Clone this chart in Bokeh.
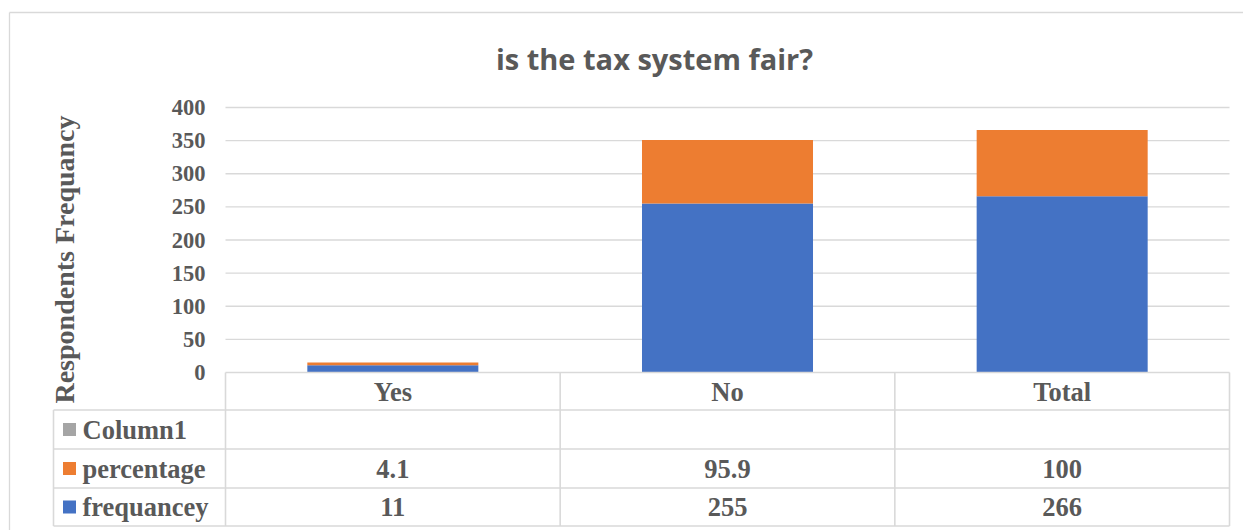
import math
from bokeh.plotting import figure
from bokeh.models import Range1d, ColumnDataSource
from bokeh.core.properties import value
from bokeh.embed import file_html
from bokeh.resources import INLINE

# ---------------- data ----------------
title_text = "is the tax system fair?"
y_label = "Respondents Frequancy"
categories = ["Yes", "No", "Total"]
frequancey = [11, 255, 266]
percentage = [4.1, 95.9, 100]
column1 = [None, None, None]
series_names = ["Column1", "percentage", "frequancey"]
series_colors = ["#A5A5A5", "#ED7D31", "#4472C4"]
y_ticks = [0, 50, 100, 150, 200, 250, 300, 350, 400]

# ---------------- layout (pixels) ----------------
W, H = 1243, 530
PX_L, PX_R = 225.0, 1229.0
PX_Y0, PX_YTOP = 372.0, 107.0
Y_TOP_VAL = y_ticks[-1]
n = len(categories)
sx = (PX_R - PX_L) / n
sy = (PX_Y0 - PX_YTOP) / Y_TOP_VAL


def X(px):
    return (px - PX_L) / sx


def Y(py):
    return (PX_Y0 - py) / sy


TEXT = "#595959"
LINE = "#D9D9D9"
SERIF = value("Liberation Serif")

p = figure(width=W, height=H,
           x_range=Range1d(X(0), X(W)), y_range=Range1d(Y(H), Y(0)),
           output_backend="svg", toolbar_location=None,
           x_axis_type=None, y_axis_type=None,
           min_border=0, min_border_left=0, min_border_right=0,
           min_border_top=0, min_border_bottom=0)
p.outline_line_color = None
p.background_fill_color = "white"
p.border_fill_color = "white"

# outer chart border (left and top visible)
p.segment(x0=[X(9), X(9)], y0=[Y(12), Y(12)], x1=[X(9), X(W + 5)], y1=[Y(H + 5), Y(12)],
          line_color=LINE, line_width=1.3)

# gridlines
gt = y_ticks[1:]
p.segment(x0=[0] * len(gt), x1=[n] * len(gt), y0=gt, y1=gt, line_color=LINE, line_width=1.3)

# stacked bars
src = ColumnDataSource(dict(x=[i + 0.5 for i in range(n)], frequancey=frequancey, percentage=percentage))
p.vbar_stack(["frequancey", "percentage"], x="x", width=0.511, source=src,
             fill_color=[series_colors[2], series_colors[1]], line_color=None)

# y tick labels
p.text(x=[X(205)] * len(y_ticks), y=y_ticks, text=[str(t) for t in y_ticks],
       text_align="right", text_baseline="middle", text_font=SERIF, text_font_style="bold",
       text_font_size="22.5px", text_color=TEXT)

# y axis label
p.text(x=[X(64)], y=[Y(259)], text=[y_label], angle=math.pi / 2,
       text_align="center", text_baseline="middle", text_font=SERIF, text_font_style="bold",
       text_font_size="28px", text_color=TEXT)

# title
p.text(x=[X(654)], y=[Y(58)], text=[title_text], text_align="center", text_baseline="alphabetic",
       text_font=value("Open Sans"), text_font_style="bold", text_font_size="29px", text_color=TEXT)

# data table lines
rows_px = [372.0, 409.5, 448.5, 487.5, 525.5]
ry = [Y(v) for v in rows_px]
hx0 = [0] + [X(53)] * 4
hx1 = [n] * 5
p.segment(x0=hx0, x1=hx1, y0=ry, y1=ry, line_color=LINE, line_width=1.6)
vx = [X(53)] + list(range(n + 1))
vy0 = [ry[1]] + [ry[0]] * (n + 1)
vy1 = [ry[-1]] * (n + 2)
p.segment(x0=vx, x1=vx, y0=vy0, y1=vy1, line_color=LINE, line_width=1.6)

# category row
cx = [i + 0.5 for i in range(n)]
p.text(x=cx, y=[Y(391)] * n, text=categories, text_align="center", text_baseline="middle",
       text_font=SERIF, text_font_style="bold", text_font_size="26.5px", text_color=TEXT)


def fmt(v):
    return "" if v is None else f"{v:g}"


row_centers = [Y((rows_px[k] + rows_px[k + 1]) / 2) for k in range(1, 4)]
row_values = [column1, percentage, frequancey]
for k in range(3):
    vals = [fmt(v) for v in row_values[k]]
    p.text(x=cx, y=[row_centers[k]] * n, text=vals, text_align="center", text_baseline="middle",
           text_font=SERIF, text_font_style="bold", text_font_size="26.5px", text_color=TEXT)

# legend keys + names in table
p.scatter(x=[X(69)] * 3, y=row_centers, marker="square", size=13, fill_color=series_colors,
          line_color=None)
p.text(x=[X(82)] * 3, y=row_centers, text=series_names, text_align="left", text_baseline="middle",
       text_font=SERIF, text_font_style="bold", text_font_size="26.5px", text_color=TEXT)

open("out.html", "w").write(file_html(p, INLINE))
